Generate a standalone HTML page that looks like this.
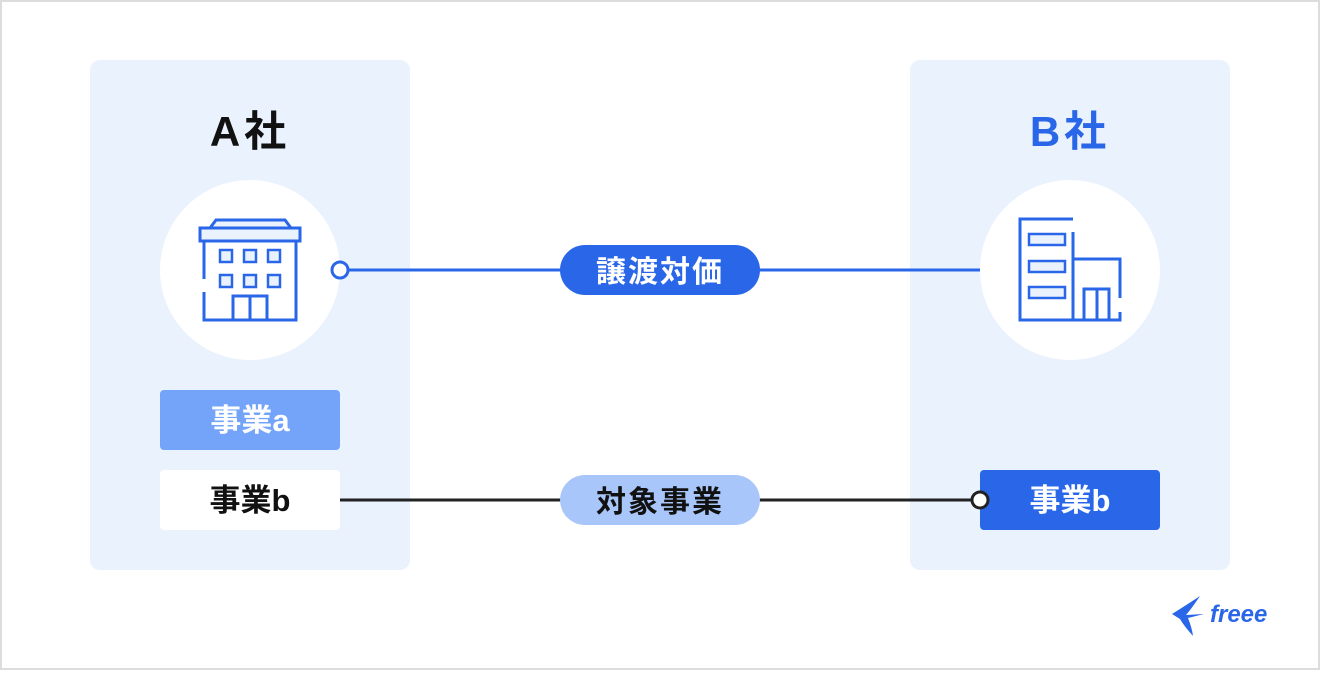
<!DOCTYPE html>
<html><head><meta charset="utf-8"><style>
body{margin:0;background:#fff;}
svg text{font-family:"Liberation Sans","Noto Sans CJK JP",sans-serif;font-weight:700;}
</style></head><body>
<svg width="1320" height="670" viewBox="0 0 1320 670" xmlns="http://www.w3.org/2000/svg">
<rect x="1" y="1" width="1318" height="668" fill="#fff" stroke="#dcdcdc" stroke-width="2"/>
<rect x="90" y="60" width="320" height="510" rx="10" fill="#eaf2fe"/>
<rect x="910" y="60" width="320" height="510" rx="10" fill="#eaf2fe"/>
<text x="250" y="146" font-size="42" text-anchor="middle" fill="#111" letter-spacing="4">A社</text>
<text x="1070" y="146" font-size="42" text-anchor="middle" fill="#2a67e8" letter-spacing="4">B社</text>
<circle cx="250" cy="270" r="90" fill="#fff"/>
<circle cx="1070" cy="270" r="90" fill="#fff"/>
<g fill="none" stroke="#2a67e8" stroke-width="3">
<path d="M210 228 L216 220 L285 220 L291 228" fill="#eaf2fe"/>
<rect x="200" y="228" width="100" height="13" fill="#eaf2fe"/>
<path d="M204 279 V241 M204 292 V320 H296 V241"/>
<g fill="#eaf2fe" stroke-width="2.5">
<rect x="220" y="250" width="12" height="12"/><rect x="244" y="250" width="12" height="12"/><rect x="268" y="250" width="12" height="12"/>
<rect x="220" y="275" width="12" height="12"/><rect x="244" y="275" width="12" height="12"/><rect x="268" y="275" width="12" height="12"/>
</g>
<path d="M233 320 V296 H267 V320 M250 296 V320"/>
<path d="M1073 219 H1020 V320 H1120 V312 M1120 298 V259 H1073 M1073 232 V320"/>
<g fill="#eaf2fe" stroke-width="2.5">
<rect x="1029" y="234" width="36" height="11"/><rect x="1029" y="261" width="36" height="11"/><rect x="1029" y="287" width="36" height="11"/>
</g>
<path d="M1084 320 V289 H1109 V320 M1097 289 V320"/>
</g>
<line x1="348" y1="270" x2="980" y2="270" stroke="#2a67e8" stroke-width="3"/>
<circle cx="340" cy="270" r="8" fill="#fff" stroke="#2a67e8" stroke-width="3"/>
<rect x="560" y="245" width="200" height="50" rx="25" fill="#2a67e8"/>
<text x="660" y="282" font-size="30" text-anchor="middle" fill="#fff" letter-spacing="2">譲渡対価</text>
<line x1="340" y1="500" x2="972" y2="500" stroke="#222" stroke-width="3"/>
<rect x="560" y="475" width="200" height="50" rx="25" fill="#a9c6fa"/>
<text x="660" y="512" font-size="30" text-anchor="middle" fill="#111" letter-spacing="2">対象事業</text>
<rect x="160" y="390" width="180" height="60" rx="4" fill="#73a4f9"/>
<text x="250" y="431" font-size="31" text-anchor="middle" fill="#fff">事業a</text>
<rect x="160" y="470" width="180" height="60" rx="4" fill="#fff"/>
<text x="250" y="511" font-size="31" text-anchor="middle" fill="#111">事業b</text>
<rect x="980" y="470" width="180" height="60" rx="4" fill="#2a67e8"/>
<text x="1070" y="511" font-size="31" text-anchor="middle" fill="#fff">事業b</text>
<circle cx="980" cy="500" r="8" fill="#fff" stroke="#222" stroke-width="3"/>
<path d="M1172 614 Q1188 604 1200 596 Q1192 608 1186 615 L1204 614 L1188 618 Q1192 628 1193 636 Q1184 626 1180 619 Z" fill="#2a67e8"/>
<text x="1210" y="622" font-size="24" font-style="italic" font-weight="400" fill="#2a67e8" font-family="Liberation Serif,serif">freee</text>
</svg>
</body></html>
